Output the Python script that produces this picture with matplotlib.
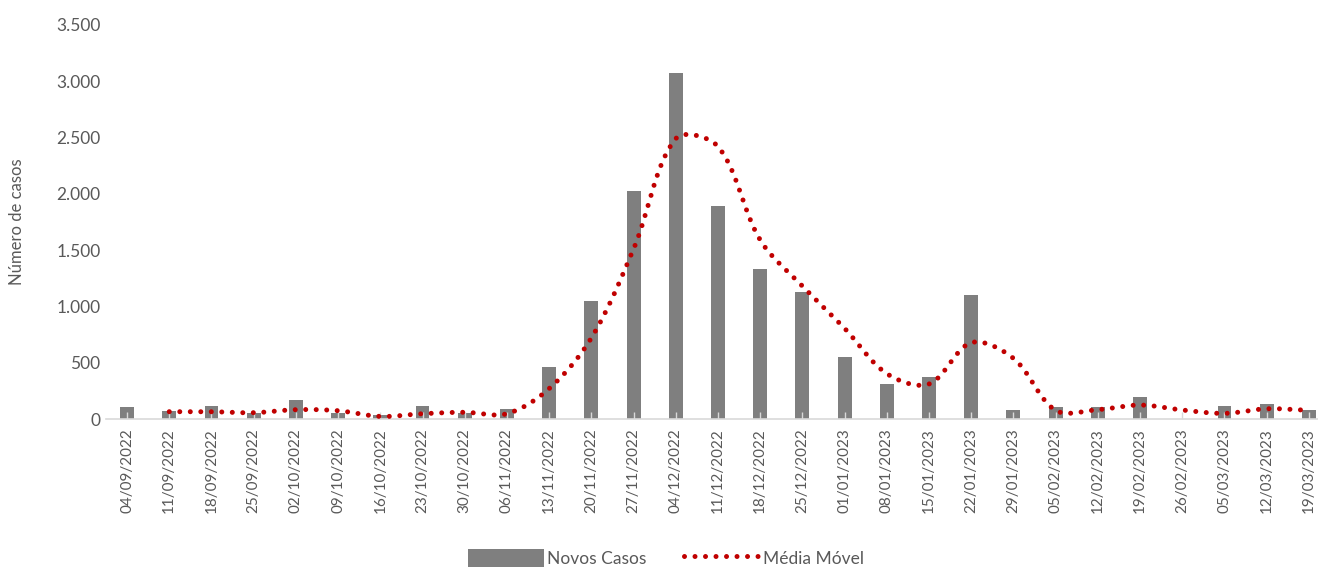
import matplotlib.pyplot as plt
import numpy as np

plt.rcParams['font.family'] = ['Lato', 'DejaVu Sans']

# Semanas epidemiológicas
datas = ['04/09/2022', '11/09/2022', '18/09/2022', '25/09/2022', '02/10/2022',
         '09/10/2022', '16/10/2022', '23/10/2022', '30/10/2022', '06/11/2022',
         '13/11/2022', '20/11/2022', '27/11/2022', '04/12/2022', '11/12/2022',
         '18/12/2022', '25/12/2022', '01/01/2023', '08/01/2023', '15/01/2023',
         '22/01/2023', '29/01/2023', '05/02/2023', '12/02/2023', '19/02/2023',
         '26/02/2023', '05/03/2023', '12/03/2023', '19/03/2023']

novos_casos = [105, 70, 115, 50, 170, 55, 40, 120, 55, 90,
               462, 1050, 2025, 3071, 1892, 1330, 1125, 548, 311, 370,
               1105, 80, 110, 110, 195, 0, 115, 130, 80]

# média móvel (começa na segunda semana)
media_movel = [65, 65, 56, 83, 74, 23, 47, 60, 47,
               270, 720, 1510, 2490, 2420, 1590, 1180, 805, 403, 311,
               678, 539, 77, 83, 124, 80, 50, 91, 77]

x = np.arange(len(datas))
x_mm = x[1:]


def suavizar(xs, ys, sx=42.2, sy=0.1126, n=24):
    # linha suavizada no estilo do Excel (Bezier com tangentes ponderadas
    # pelo comprimento dos segmentos, calculado em pixels)
    P = np.column_stack([np.asarray(xs, float) * sx, np.asarray(ys, float) * sy])
    m = len(P)
    t = np.linspace(0, 1, n, endpoint=False)[:, None]
    pts = []
    for i in range(m - 1):
        p0 = P[max(i - 1, 0)]
        p1 = P[i]
        p2 = P[i + 1]
        p3 = P[min(i + 2, m - 1)]
        d01 = np.linalg.norm(p1 - p0)
        d12 = np.linalg.norm(p2 - p1)
        d23 = np.linalg.norm(p3 - p2)
        c1 = p1 + (p2 - p0) * d12 / (d01 + d12) / 3
        c2 = p2 - (p3 - p1) * d12 / (d12 + d23) / 3
        seg = ((1 - t) ** 3 * p1 + 3 * (1 - t) ** 2 * t * c1
               + 3 * (1 - t) * t ** 2 * c2 + t ** 3 * p2)
        pts.append(seg)
    pts.append(P[-1:])
    pts = np.vstack(pts)
    return pts[:, 0] / sx, pts[:, 1] / sy


fig = plt.figure(figsize=(13.18, 5.67), dpi=100)
ax = fig.add_axes([0.0804, 0.261, 0.9287, 0.695])

barras = ax.bar(x, novos_casos, width=0.33, color='#7f7f7f', label='Novos Casos', zorder=1)

lx, ly = suavizar(x_mm, media_movel)
linha, = ax.plot(lx, ly, color='#c00000', linewidth=3.6, linestyle=(0, (0.001, 2.1)),
                 dash_capstyle='round', label='Média Móvel', zorder=3)

ax.set_xlim(-0.5, len(datas) - 0.5)
ax.set_ylim(0, 3500)
ax.set_yticks(np.arange(0, 3501, 500))
ax.set_yticklabels([f'{v:,}'.replace(',', '.') for v in range(0, 3501, 500)])
ax.set_xticks(x)
ax.set_xticklabels(datas, rotation=90)

for s in ['top', 'right', 'left']:
    ax.spines[s].set_visible(False)
ax.spines['bottom'].set_color('#d9d9d9')
ax.spines['bottom'].set_linewidth(1.2)

ax.tick_params(axis='y', length=0, labelsize=12.5, labelcolor='#595959', pad=4)
ax.tick_params(axis='x', direction='in', length=5, color='#d9d9d9', width=1,
               labelsize=11, labelcolor='#595959', pad=7)

ax.set_ylabel('Número de casos', fontsize=12, color='#595959', labelpad=22)

fig.legend([barras, linha], ['Novos Casos', 'Média Móvel'], loc='center',
           bbox_to_anchor=(666 / 1318, 1 - 558 / 567), ncol=2,
           frameon=False, fontsize=12.5, handlelength=4.4, handleheight=1.3,
           columnspacing=2.2, handletextpad=0.15, labelcolor='#595959')

fig.savefig('out.png', dpi=100)
